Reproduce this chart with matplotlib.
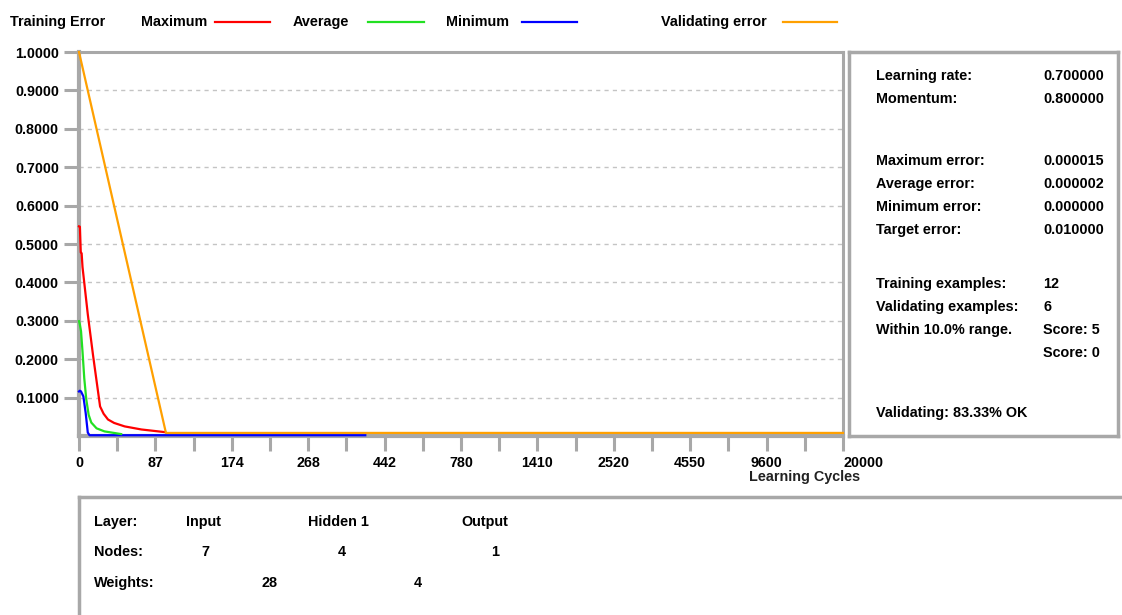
import numpy as np
import matplotlib
matplotlib.use("Agg")
import matplotlib.pyplot as plt

plt.rcParams["font.family"] = ["Liberation Sans", "DejaVu Sans"]
plt.rcParams["font.weight"] = "bold"

# x axis tick values (non-linear, equally spaced on screen)
tick_cycles = [0, 87, 174, 268, 442, 780, 1410, 2520, 4550, 9600, 20000]

# training error curves (cycles, error)
max_x = [0, 1, 2, 3, 4, 10, 16, 24, 28, 33, 40, 52, 71, 98]
max_y = [0.546, 0.545, 0.478, 0.476, 0.44, 0.317, 0.21, 0.077, 0.058, 0.043, 0.034, 0.025, 0.017, 0.010]
avg_x = [0, 1, 2.3, 4, 6, 8.3, 11, 14, 20, 29, 48]
avg_y = [0.299, 0.29, 0.273, 0.22, 0.15, 0.095, 0.055, 0.035, 0.02, 0.012, 0.005]
min_x = [0, 1, 2.3, 5, 7.6, 10, 12, 398]
min_y = [0.116, 0.118, 0.116, 0.103, 0.06, 0.009, 0.002, 0.002]
val_x = [0, 99, 20000]
val_y = [1.0, 0.008, 0.008]

# info panel text
info_rows = [
    ("Learning rate:", "0.700000"),
    ("Momentum:", "0.800000"),
    ("Maximum error:", "0.000015"),
    ("Average error:", "0.000002"),
    ("Minimum error:", "0.000000"),
    ("Target error:", "0.010000"),
    ("Training examples:", "12"),
    ("Validating examples:", "6"),
    ("Within 10.0% range.", "Score: 5"),
    ("", "Score: 0"),
    ("Validating: 83.33% OK", ""),
]
info_ypix = [76, 99, 161, 184, 207, 230, 284, 307, 330, 353, 413]

W, H = 1122, 615
GREY = "#a8a8a8"
RED, GREEN, BLUE, ORANGE = "#ff0000", "#22e022", "#0000ff", "#ffa000"
FS = 10.4


def fx(px):
    return px / W


def fy(py):
    return 1 - py / H


idx = np.arange(len(tick_cycles))


def forward(x):
    return np.interp(x, tick_cycles, idx)


def inverse(i):
    return np.interp(i, idx, tick_cycles)


fig = plt.figure(figsize=(W / 100, H / 100), dpi=100)
ax = fig.add_axes([fx(79), fy(436), fx(843 - 79), (436 - 52) / H])
ax.set_xscale("function", functions=(forward, inverse))
ax.set_xlim(0, 20000)
ax.set_ylim(0, 1.0)

ax.plot(val_x, val_y, color=ORANGE, lw=1.6, zorder=5, clip_on=False)
ax.plot(min_x, min_y, color=BLUE, lw=1.6, zorder=4, clip_on=False)
ax.plot(avg_x, avg_y, color=GREEN, lw=1.6, zorder=4, clip_on=False)
ax.plot(max_x, max_y, color=RED, lw=1.6, zorder=4, clip_on=False)

yt = np.round(np.arange(0.1, 1.01, 0.1), 1)
ax.set_yticks(yt)
ax.set_yticklabels(["%.4f" % v for v in yt])
ax.set_xticks(tick_cycles)
ax.set_xticklabels([str(t) for t in tick_cycles])
ax.set_xticks(inverse(idx[:-1] + 0.5), minor=True)
ax.xaxis.get_majorticklabels()[-1].set_horizontalalignment("left")

ax.tick_params(axis="both", which="both", direction="out", length=10.5,
               width=2.2, color=GREY, labelsize=10.3)
ax.tick_params(axis="x", pad=4)
ax.tick_params(axis="y", pad=4)
for lab in ax.get_xticklabels() + ax.get_yticklabels():
    lab.set_fontweight("bold")

for yv in yt[:-1]:
    ax.axhline(yv, color="#c4c4c4", lw=1, ls=(0, (3, 3)), zorder=1)

for s in ["left", "bottom"]:
    ax.spines[s].set_color(GREY)
    ax.spines[s].set_linewidth(3)
for s in ["top", "right"]:
    ax.spines[s].set_color(GREY)
    ax.spines[s].set_linewidth(2.2)

fig.text(fx(805), fy(477), "Learning Cycles", ha="center", va="center",
         fontsize=FS, fontweight="bold", color="#222222")

# legend row
fig.text(fx(10), fy(22), "Training Error", ha="left", va="center", fontsize=FS, fontweight="bold")
legend_items = [("Maximum", 141, 215, 270, RED), ("Average", 293, 368, 424, GREEN),
                ("Minimum", 446, 522, 577, BLUE), ("Validating error", 661, 783, 837, ORANGE)]
for name, tx, l0, l1, col in legend_items:
    fig.text(fx(tx), fy(22), name, ha="left", va="center", fontsize=FS, fontweight="bold")
    fig.add_artist(plt.Line2D([fx(l0), fx(l1)], [fy(22), fy(22)], color=col, lw=1.6,
                              transform=fig.transFigure))

# right info panel
pan = fig.add_axes([fx(849), fy(436), fx(1118 - 849), (436 - 52) / H])
pan.set_xticks([])
pan.set_yticks([])
for s in pan.spines.values():
    s.set_color(GREY)
    s.set_linewidth(2.5)
for (lab, val), py in zip(info_rows, info_ypix):
    if lab:
        fig.text(fx(876), fy(py), lab, ha="left", va="center", fontsize=FS, fontweight="bold")
    if val:
        fig.text(fx(1043), fy(py), val, ha="left", va="center", fontsize=FS, fontweight="bold")

# bottom network panel
net = fig.add_axes([fx(79), -0.1, 1.0, fy(497) + 0.1])
net.set_xticks([])
net.set_yticks([])
net.spines["right"].set_visible(False)
net.spines["bottom"].set_visible(False)
for s in ["left", "top"]:
    net.spines[s].set_color(GREY)
    net.spines[s].set_linewidth(2.5)

layer_names = ["Input", "Hidden 1", "Output"]
layer_x = [186, 308, 461]
node_counts = ["7", "4", "1"]
node_x = [205, 342, 495]
weight_counts = ["28", "4"]
weight_x = [270, 418]

fig.text(fx(94), fy(522), "Layer:", ha="left", va="center", fontsize=FS, fontweight="bold")
fig.text(fx(94), fy(552), "Nodes:", ha="left", va="center", fontsize=FS, fontweight="bold")
fig.text(fx(94), fy(583), "Weights:", ha="left", va="center", fontsize=FS, fontweight="bold")
for t, x in zip(layer_names, layer_x):
    fig.text(fx(x), fy(522), t, ha="left", va="center", fontsize=FS, fontweight="bold")
for t, x in zip(node_counts, node_x):
    fig.text(fx(x), fy(552), t, ha="center", va="center", fontsize=FS, fontweight="bold")
for t, x in zip(weight_counts, weight_x):
    fig.text(fx(x), fy(583), t, ha="center", va="center", fontsize=FS, fontweight="bold")

fig.savefig("out.png", dpi=100)
